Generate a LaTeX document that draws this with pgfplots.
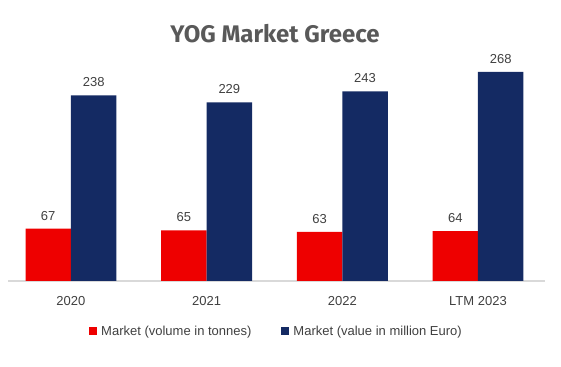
\documentclass[border=0pt]{standalone}
\usepackage{pgfplots}
\pgfplotsset{compat=1.18}
\usepackage{fontspec}
\setmainfont{Liberation Sans}
\newfontfamily\titlefont{Fira Sans}
\definecolor{myred}{HTML}{EE0000}
\definecolor{mynavy}{HTML}{142A63}
\definecolor{txt}{HTML}{404040}
\definecolor{ttl}{HTML}{595959}
\begin{document}
\begin{tikzpicture}
\useasboundingbox (0,0) rectangle (561bp,367bp);
\begin{axis}[
 at={(8bp,86bp)}, anchor=south west,
 width=537bp, height=234bp, scale only axis,
 xmin=-0.464, xmax=3.494, ymin=0, ymax=300,
 /pgf/number format/assume math mode=true,
 ybar=0pt, bar width=0.335,
 axis x line*=bottom, axis y line=none,
 x axis line style={draw=black!15, line width=1.5bp, -},
 xtick=data, xticklabels={2020,2021,2022,LTM 2023},
 xtick style={draw=none},
 xticklabel style={font=\fontsize{13bp}{15bp}\selectfont, text=txt, yshift=-8bp},
 nodes near coords,
 nodes near coords style={font=\fontsize{13bp}{15bp}\selectfont, text=txt, yshift=5bp},
 legend columns=2,
 legend style={draw=none, fill=none, at={(0.5,-0.214)}, anchor=center,
   font=\fontsize{13bp}{15bp}\selectfont, text=txt,
   /tikz/every even column/.append style={column sep=28bp}},
 legend image code/.code={\path[#1] (0bp,-4bp) rectangle (8bp,4bp); \path (10bp,0bp);},
]
\addplot[fill=myred, draw=none] coordinates {(0,67)(1,65)(2,63)(3,64)};
\addlegendentry{Market (volume in tonnes)}
\addplot[fill=mynavy, draw=none] coordinates {(0,238)(1,229)(2,243)(3,268)};
\addlegendentry{Market (value in million Euro)}
\end{axis}
\node[font=\titlefont\bfseries\fontsize{24bp}{28bp}\selectfont, text=ttl] at (275bp,333bp) {YOG Market Greece};
\end{tikzpicture}
\end{document}
